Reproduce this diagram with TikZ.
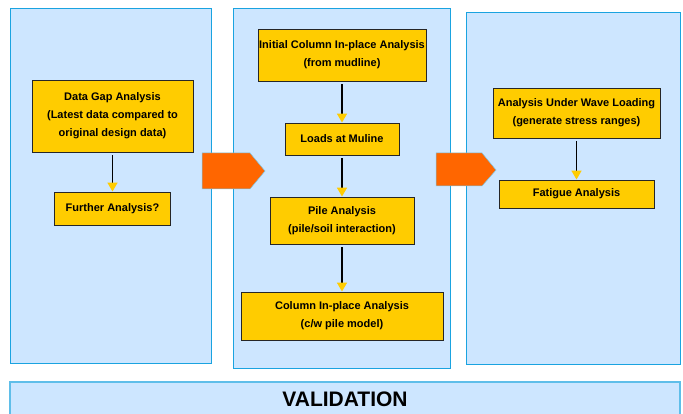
\documentclass[tikz,border=0pt]{standalone}
\usepackage{fontspec}
\setmainfont{Liberation Sans}
\usetikzlibrary{arrows.meta}
\definecolor{panelblue}{HTML}{CDE6FF}
\definecolor{paneledge}{HTML}{1AA3E0}
\definecolor{boxyellow}{HTML}{FFCC00}
\definecolor{flowarrow}{HTML}{FF6600}
\tikzset{
  panel/.style={fill=panelblue,draw=paneledge,line width=0.9pt},
  taskbox/.style={draw=black!85,fill=boxyellow,line width=0.9pt,align=center,inner sep=0pt,
    font=\bfseries\fontsize{11}{18}\selectfont},
  flow/.style={line width=1.6pt,shorten <=3pt,-{Triangle[width=10pt,length=9pt,color=boxyellow]}},
  bigarrow/.style={fill=flowarrow,draw=paneledge!60,line width=0.5pt}
}
\begin{document}
\begin{tikzpicture}[x=1pt,y=-1pt]
\useasboundingbox (0,0) rectangle (683,414);
\filldraw[panel](10,8) rectangle (211,363);
\filldraw[panel](233,8) rectangle (450,368);
\filldraw[panel](466,12) rectangle (680,364);
\fill[panelblue](10,382) rectangle (680,414);
\draw[paneledge!70,line width=1.5pt](10,414)--(10,382)--(680,382)--(680,414);
\filldraw[bigarrow](202,153)--(250,153)--(265,171)--(250,189)--(202,189)--cycle;
\filldraw[bigarrow](436,153)--(482,153)--(496,170)--(482,186)--(436,186)--cycle;
\node[taskbox,minimum width=161pt,minimum height=72pt] (gap) at (112.5,116) {Data Gap Analysis\\(Latest data compared to\\original design data)};
\node[taskbox,minimum width=116pt,minimum height=33pt] (further) at (112.5,208.5) {Further Analysis?};
\node[taskbox,minimum width=168pt,minimum height=52pt] (initial) at (342,55) {Initial Column In-place Analysis\\(from mudline)};
\node[taskbox,minimum width=114pt,minimum height=32pt] (loads) at (342,139) {Loads at Muline};
\node[taskbox,minimum width=144pt,minimum height=47pt] (pile) at (342,220.5) {Pile Analysis\\(pile/soil interaction)};
\node[taskbox,minimum width=202pt,minimum height=48pt] (inplace) at (342,316) {Column In-place Analysis\\(c/w pile model)};
\node[taskbox,minimum width=167pt,minimum height=50pt] (wave) at (576.5,113) {Analysis Under Wave Loading\\(generate stress ranges)};
\node[taskbox,minimum width=155pt,minimum height=28pt] (fatigue) at (576.5,194) {Fatigue Analysis};
\node[font=\bfseries\fontsize{21}{24}\selectfont] (validation) at (345,399) {VALIDATION};
\draw[flow](gap)--(further);
\draw[flow](initial)--(loads);
\draw[flow](loads)--(pile);
\draw[flow](pile)--(inplace);
\draw[flow](wave)--(fatigue);
\end{tikzpicture}
\end{document}
